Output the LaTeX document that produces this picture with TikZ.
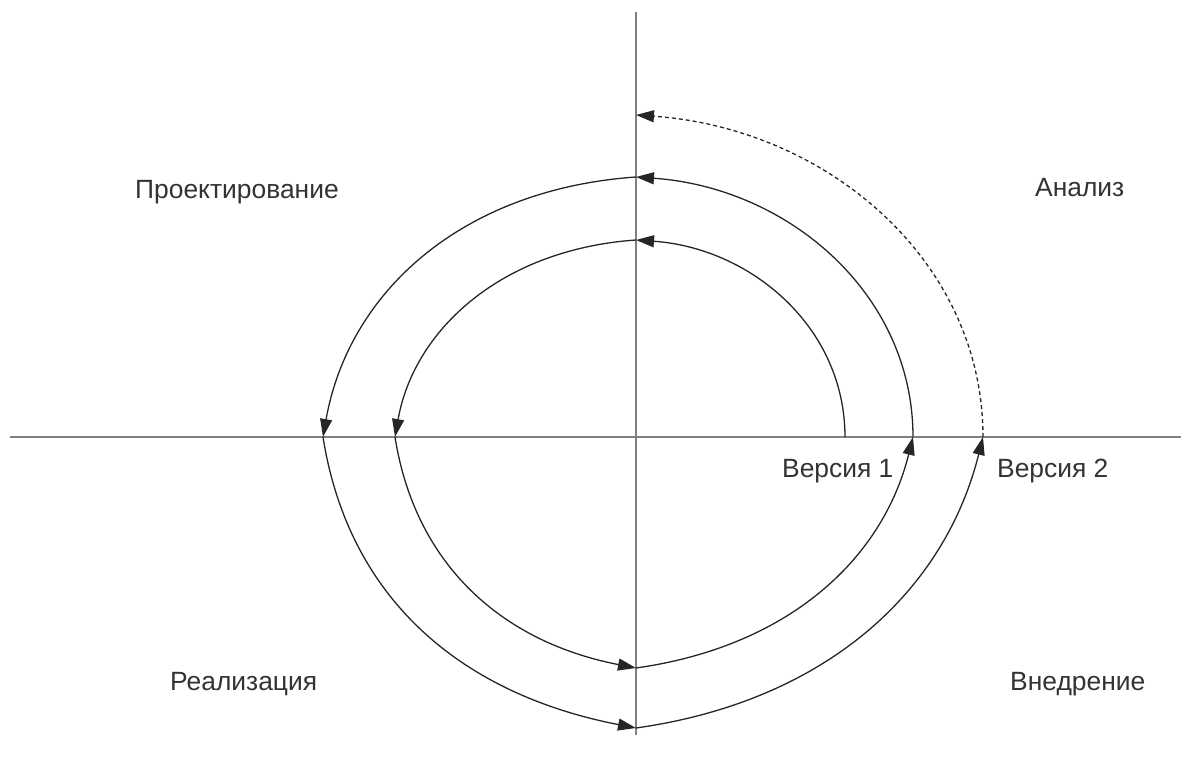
\documentclass[tikz,border=0pt]{standalone}
\usepackage{fontspec}
\setmainfont{Liberation Sans}
\usetikzlibrary{arrows.meta}
\begin{document}
\begin{tikzpicture}[x=1pt,y=1pt,
  axis/.style={draw=black!50, line width=1.6pt},
  loop/.style={draw=black!85, line width=1.3pt, -{Triangle[length=18pt,width=12pt]}},
  lbl/.style={anchor=base west, inner sep=0pt, text=black!80, font=\fontsize{26.4}{30}\selectfont}]
\useasboundingbox (-636,-326) rectangle (545,437);
% axes
\coordinate (top) at (0,425);
\coordinate (bot) at (0,-298);
\coordinate (lft) at (-626,0);
\coordinate (rgt) at (545,0);
\draw[axis] (top) -- (bot);
\draw[axis] (lft) -- (rgt);
% spiral points
\coordinate (p0) at (209,0);
\coordinate (p1) at (0,197);
\coordinate (p2) at (-241,0);
\coordinate (p3) at (0,-231);
\coordinate (p4) at (277,0);
\coordinate (p5) at (0,260);
\coordinate (p6) at (-313,0);
\coordinate (p7) at (0,-291);
\coordinate (p8) at (347,0);
\coordinate (p9) at (0,322);
\draw[loop] (p0) .. controls +(90:110pt) and +(-4:115pt) .. (p1);
\draw[loop] (p1) .. controls +(184:136pt) and +(80:108pt) .. (p2);
\draw[loop] (p2) .. controls +(279:130pt) and +(169:136pt) .. (p3);
\draw[loop] (p3) .. controls +(8:153pt) and +(256:127pt) .. (p4);
\draw[loop] (p4) .. controls +(90:143pt) and +(-4:153pt) .. (p5);
\draw[loop] (p5) .. controls +(184:176pt) and +(80:146pt) .. (p6);
\draw[loop] (p6) .. controls +(279:166pt) and +(169:176pt) .. (p7);
\draw[loop] (p7) .. controls +(8:191pt) and +(256:160pt) .. (p8);
\draw[loop, dashed, dash pattern=on 4pt off 3pt] (p8) .. controls +(90:177pt) and +(-4:191pt) .. (p9);
% labels
\node[lbl] (proj) at (-501,238) {Проектирование};
\node[lbl] (anal) at (399,240) {Анализ};
\node[lbl] (v1) at (146,-40) {Версия 1};
\node[lbl] (v2) at (361,-40) {Версия 2};
\node[lbl] (real) at (-466,-253) {Реализация};
\node[lbl] (vned) at (374,-253) {Внедрение};
\end{tikzpicture}
\end{document}
